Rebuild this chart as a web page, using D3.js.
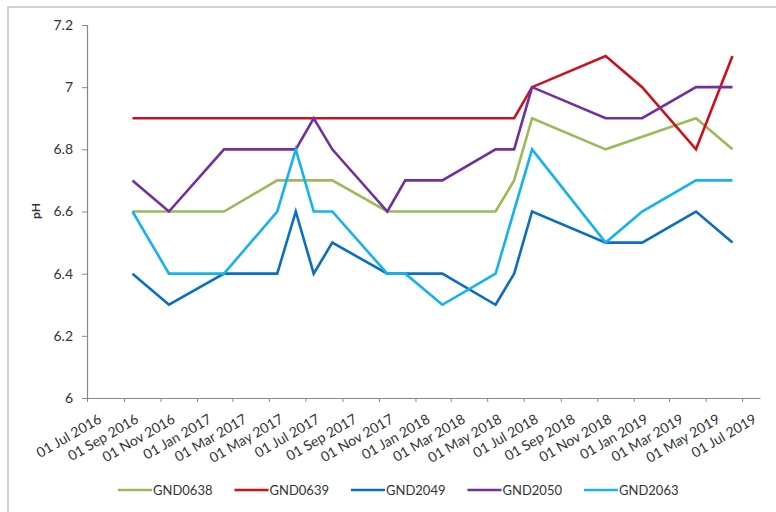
<!DOCTYPE html>
<html>
<head>
<meta charset="utf-8">
<script src="https://d3js.org/d3.v7.min.js"></script>
<style>
  body { margin: 0; background: #fff; }
  text { font-family: Lato, "Open Sans", sans-serif; fill: #333; }
</style>
</head>
<body>
<script>
// sampling dates (mid-month)
var dates = ["2016-09-15","2016-11-15","2017-02-15","2017-05-15","2017-06-15","2017-07-15",
  "2017-08-15","2017-11-15","2017-12-15","2018-02-15","2018-05-15","2018-06-15",
  "2018-07-15","2018-11-15","2019-01-15","2019-04-15","2019-06-15"];

var seriesNames = ["GND0638","GND0639","GND2049","GND2050","GND2063"];
var GND0638 = [6.6,6.6,6.6,6.7,6.7,6.7,6.7,6.6,6.6,6.6,6.6,6.7,6.9,6.8,null,6.9,6.8];
var GND0639 = [6.9,6.9,6.9,6.9,6.9,6.9,6.9,6.9,6.9,6.9,6.9,6.9,7.0,7.1,7.0,6.8,7.1];
var GND2049 = [6.4,6.3,6.4,6.4,6.6,6.4,6.5,6.4,6.4,6.4,6.3,6.4,6.6,6.5,6.5,6.6,6.5];
var GND2050 = [6.7,6.6,6.8,6.8,6.8,6.9,6.8,6.6,6.7,6.7,6.8,6.8,7.0,6.9,6.9,7.0,7.0];
var GND2063 = [6.6,6.4,6.4,6.6,6.8,6.6,6.6,6.4,6.4,6.3,6.4,null,6.8,6.5,6.6,6.7,6.7];
var colors = ["#9bbb59","#d00f1d","#0a6fc2","#7030a0","#14b2ef"];

var xTicks = ["2016-07-01","2016-09-01","2016-11-01","2017-01-01","2017-03-01","2017-05-01",
  "2017-07-01","2017-09-01","2017-11-01","2018-01-01","2018-03-01","2018-05-01","2018-07-01",
  "2018-09-01","2018-11-01","2019-01-01","2019-03-01","2019-05-01","2019-07-01"];
var yTicks = [6, 6.2, 6.4, 6.6, 6.8, 7, 7.2];

var W = 776, H = 512;
var svg = d3.select("body").append("svg").attr("width", W).attr("height", H);

// outer frame
svg.append("rect").attr("x", 8).attr("y", 7).attr("width", W).attr("height", H)
  .attr("fill", "none").attr("stroke", "#c4c4c4").attr("stroke-width", 1.5);

var parse = d3.timeParse("%Y-%m-%d");
var x = d3.scaleTime().domain([parse("2016-07-01"), parse("2019-07-31")]).range([87, 760]);
var y = d3.scaleLinear().domain([6, 7.2]).range([398, 25]);

// y axis
var yAxis = svg.append("g").attr("transform", "translate(87,0)")
  .call(d3.axisLeft(y).tickValues(yTicks).tickSize(5).tickPadding(9)
    .tickFormat(function(d) { return d3.format("")(+d.toFixed(1)); }));
yAxis.select(".domain").attr("stroke", "#888").attr("stroke-width", 1.2);
yAxis.selectAll(".tick line").attr("stroke", "#888");
yAxis.selectAll(".tick text").attr("font-size", 14).attr("fill", "#2a2a2a")
  .attr("font-family", "Lato, sans-serif");

svg.append("text").attr("transform", "translate(40,211) rotate(-90)")
  .attr("text-anchor", "middle").attr("font-size", 12).attr("font-weight", "bold")
  .attr("fill", "#222").text("pH");

// x axis
var xAxis = svg.append("g").attr("transform", "translate(0,398)")
  .call(d3.axisBottom(x).tickValues(xTicks.map(parse)).tickSize(4).tickSizeOuter(0)
    .tickFormat(d3.timeFormat("%d %b %Y")));
xAxis.select(".domain").attr("stroke", "#888").attr("stroke-width", 1.2);
xAxis.selectAll(".tick line").attr("stroke", "#888");
xAxis.selectAll(".tick text").attr("font-size", 14).attr("fill", "#2a2a2a")
  .attr("font-family", "Lato, sans-serif")
  .attr("text-anchor", "end").attr("dy", null).attr("y", null)
  .attr("transform", "translate(15,24) rotate(-30)");

// lines
var line = d3.line()
  .x(function(d) { return x(d.date); })
  .y(function(d) { return y(d.v); });

var allSeries = [GND0638, GND0639, GND2049, GND2050, GND2063];
allSeries.forEach(function(vals, i) {
  var pts = vals.map(function(v, j) { return {date: parse(dates[j]), v: v}; })
    .filter(function(d) { return d.v != null; });
  svg.append("path").datum(pts).attr("d", line)
    .attr("fill", "none").attr("stroke", colors[i]).attr("stroke-width", 2.6)
    .attr("stroke-linejoin", "miter");
});

// legend
var leg = svg.append("g").attr("transform", "translate(118,490)");
seriesNames.forEach(function(name, i) {
  var g = leg.append("g").attr("transform", "translate(" + (i * 116.5) + ",0)");
  g.append("line").attr("x1", 0).attr("x2", 34).attr("y1", 0).attr("y2", 0)
    .attr("stroke", colors[i]).attr("stroke-width", 2.6);
  g.append("text").attr("x", 35).attr("y", 4.5).attr("font-size", 13)
    .attr("fill", "#2a2a2a").text(name);
});
</script>
</body>
</html>
